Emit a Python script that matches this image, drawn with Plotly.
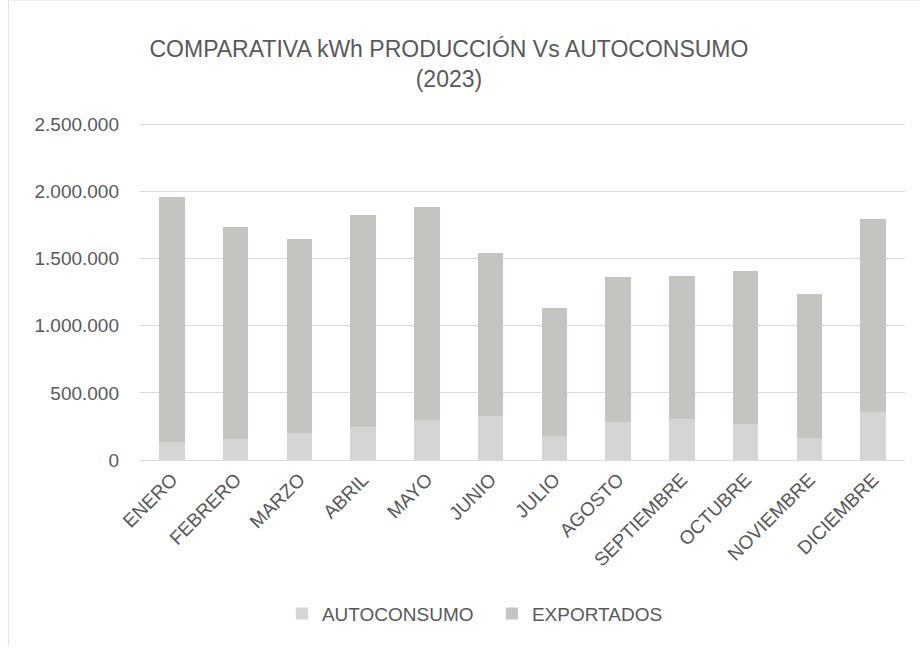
import plotly.graph_objects as go

meses = ["ENERO", "FEBRERO", "MARZO", "ABRIL", "MAYO", "JUNIO", "JULIO",
         "AGOSTO", "SEPTIEMBRE", "OCTUBRE", "NOVIEMBRE", "DICIEMBRE"]
produccion = [1957000, 1736000, 1647000, 1828000, 1886000, 1542000, 1132000,
              1362000, 1370000, 1408000, 1240000, 1800000]
autoconsumo = [137000, 157000, 199000, 249000, 300000, 326000, 179000,
               286000, 304000, 269000, 162000, 360000]
exportados = [p - a for p, a in zip(produccion, autoconsumo)]
y_ticks = [0, 500000, 1000000, 1500000, 2000000, 2500000]
y_tick_text = ["0", "500.000", "1.000.000", "1.500.000", "2.000.000", "2.500.000"]

FONT = "Liberation Sans"
GREY = "#595959"

fig = go.Figure()
fig.add_trace(go.Bar(x=meses, y=autoconsumo, name="AUTOCONSUMO",
                     marker=dict(color="#d5d6d3", line=dict(width=0))))
fig.add_trace(go.Bar(x=meses, y=exportados, name="EXPORTADOS",
                     marker=dict(color="#c3c5c1", line=dict(width=0))))

fig.update_layout(
    barmode="stack",
    bargap=0.6,
    width=920, height=649,
    paper_bgcolor="white", plot_bgcolor="white",
    margin=dict(l=140, r=15, t=123, b=189),
    font=dict(family=FONT, color=GREY),
    title=dict(text="COMPARATIVA kWh PRODUCCIÓN Vs AUTOCONSUMO<br>(2023)",
               x=0.488, xanchor="center", y=0.912, yanchor="top",
               font=dict(size=23, color=GREY, family=FONT)),
    xaxis=dict(tickangle=-45, tickfont=dict(size=19, color=GREY),
               showgrid=False, showline=True, linecolor="#d9d9d9", ticks=""),
    yaxis=dict(range=[0, 2512000], tickvals=y_ticks, ticktext=y_tick_text,
               tickfont=dict(size=19, color=GREY),
               showgrid=True, gridcolor="#d9d9d9", gridwidth=1,
               zeroline=False, ticklabelstandoff=20),
    legend=dict(orientation="h", x=0.46, xanchor="center", y=-0.456, yanchor="middle",
                font=dict(size=19, color=GREY), traceorder="normal",
                itemwidth=30, entrywidth=165, entrywidthmode="pixels"),
    shapes=[
        dict(type="line", xref="paper", yref="paper", x0=-0.172, x1=1.02, y0=1.365, y1=1.365,
             line=dict(color="#e0e0e0", width=1)),
        dict(type="line", xref="paper", yref="paper", x0=-0.172, x1=-0.172, y0=1.365, y1=-0.55,
             line=dict(color="#e0e0e0", width=1)),
    ],
)

fig.write_html("out.html", config={"displayModeBar": False},
               post_script="document.body.style.margin='0';")
